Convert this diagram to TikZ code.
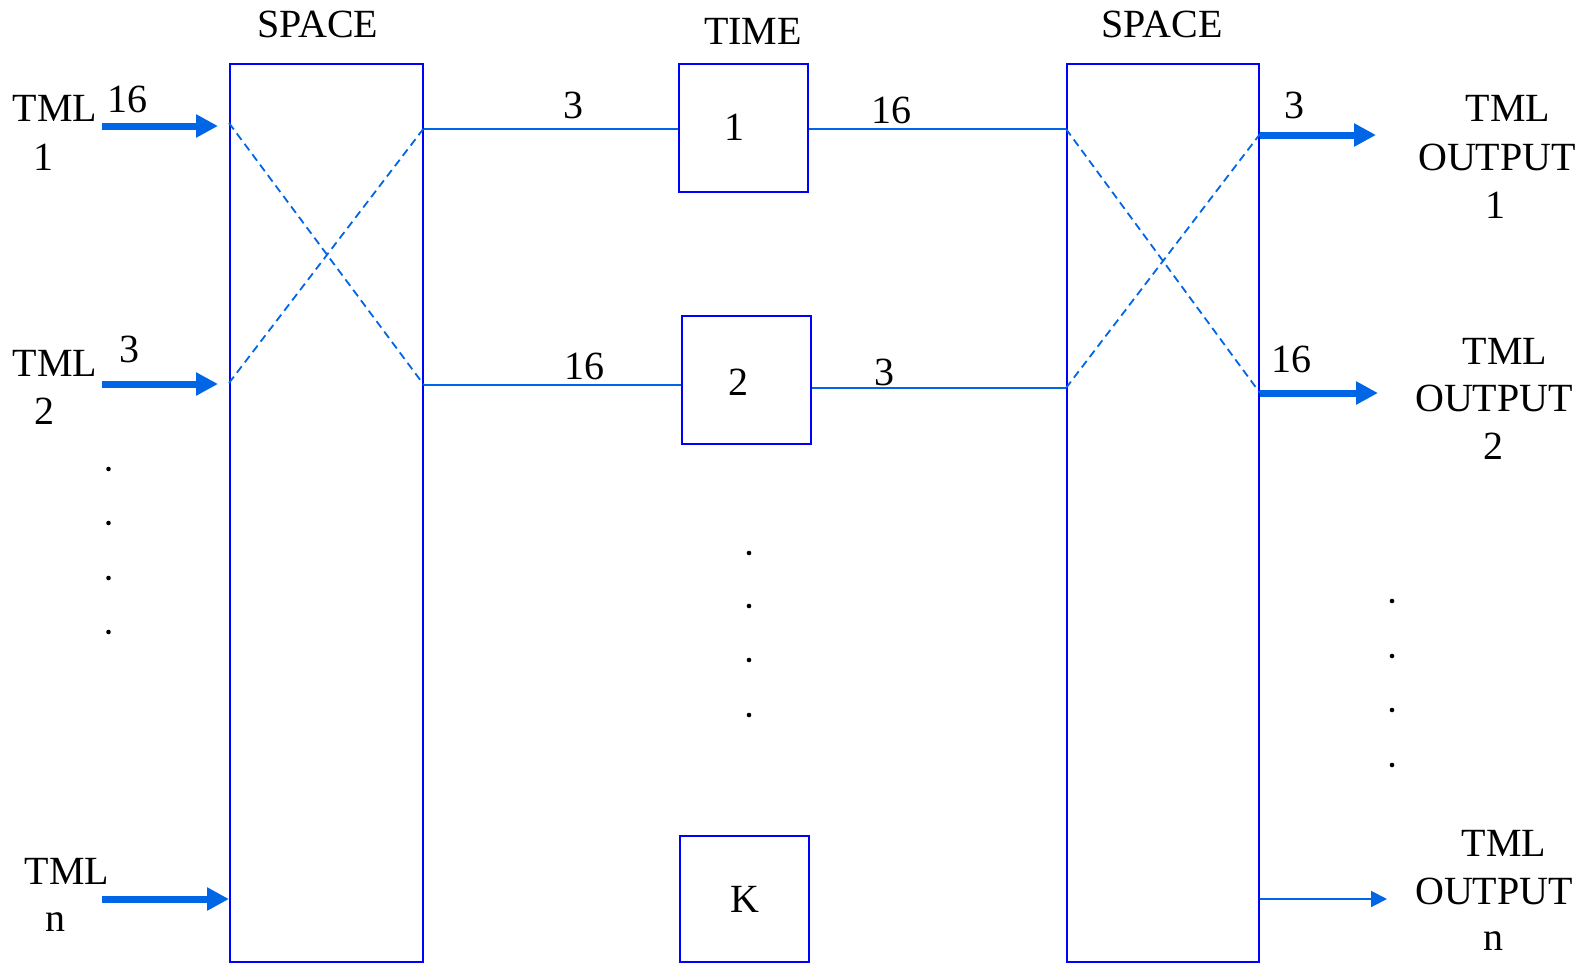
\documentclass[tikz,border=0pt]{standalone}
\usepackage{fontspec}
\setmainfont{Liberation Serif}
\usetikzlibrary{arrows.meta}
\definecolor{boxblue}{RGB}{0,0,255}
\definecolor{linkblue}{RGB}{0,102,230}
\begin{document}
\begin{tikzpicture}[x=0.5pt,y=-0.5pt,
  lbl/.style={inner sep=0pt, font=\fontsize{20}{24}\selectfont},
  bigbox/.style={draw=boxblue, line width=1pt, inner sep=0pt, minimum width=96.5pt, minimum height=449pt},
  tbox/.style={draw=boxblue, line width=1pt, inner sep=0pt, minimum width=64.5pt, minimum height=64pt},
  link/.style={draw=linkblue, line width=1pt},
  fatarrow/.style={draw=linkblue, line width=3.5pt, -{Triangle[length=11pt,width=11pt]}},
  thinarrow/.style={draw=linkblue, line width=1pt, -{Triangle[length=8pt,width=8pt]}},
  xline/.style={draw=linkblue, line width=0.9pt, dash pattern=on 4pt off 2.5pt},
  dotmark/.style={circle, fill=black, inner sep=0pt, minimum size=2.3pt}
]
\useasboundingbox (0,0) rectangle (1590,964);

% big space boxes
\node[bigbox] (lsp) at (326.5,513) {};
\node[bigbox, minimum width=96pt] (rsp) at (1163,513) {};
\node[lbl] (lspT) at (318,24) {SPACE};
\node[lbl] (rspT) at (1162,24) {SPACE};
\node[lbl] (timeT) at (753,31) {TIME};

% time boxes
\node[tbox] (b1) at (743.5,128) {};
\node[tbox] (b2) at (746.5,380) {};
\node[tbox, minimum height=63pt] (bk) at (744.5,899) {};
\node[lbl] (b1t) at ([xshift=-4.75pt,yshift=0.5pt]b1.center) {1};
\node[lbl] (b2t) at ([xshift=-4.25pt,yshift=-1pt]b2.center) {2};
\node[lbl] (bkt) at (bk.center) {K};

% links between boxes
\coordinate (y1) at (0,129);
\coordinate (y2) at (0,385);
\coordinate (y3) at (0,388);
\draw[link] (lsp.east |- y1) -- (b1.west |- y1);
\draw[link] (b1.east |- y1) -- (rsp.west |- y1);
\draw[link] (lsp.east |- y2) -- (b2.west |- y2);
\draw[link] (b2.east |- y3) -- (rsp.west |- y3);
\node[lbl] (l1a) at (573,105) {3};
\node[lbl] (l1b) at (891,110) {16};
\node[lbl] (l2a) at (584,366) {16};
\node[lbl] (l2b) at (884,372) {3};

% dashed crossings
\draw[xline] (lsp.west |- 0,123) -- (lsp.east |- 0,385);
\draw[xline] (lsp.west |- 0,383) -- (lsp.east |- 0,128);
\draw[xline] (rsp.west |- 0,129) -- (rsp.east |- 0,393);
\draw[xline] (rsp.west |- 0,388) -- (rsp.east |- 0,134);

% inputs
\coordinate (i1) at (102,126);
\coordinate (i2) at (102,384);
\coordinate (in) at (102,899);
\draw[fatarrow] (i1) -- ([xshift=-5.5pt]lsp.west |- i1);
\draw[fatarrow] (i2) -- ([xshift=-5.5pt]lsp.west |- i2);
\draw[fatarrow] (in) -- (lsp.west |- in);
\node[lbl] (t1) at (55,108) {TML};
\node[lbl] (t1n) at (43,157) {1};
\node[lbl] (t1c) at (127,99) {16};
\node[lbl] (t2) at (55,363) {TML};
\node[lbl] (t2n) at (44,411) {2};
\node[lbl] (t2c) at (129,349) {3};
\node[lbl] (tn) at (67,871) {TML};
\node[lbl] (tnn) at (56,922) {n};

% outputs
\coordinate (o1) at (1376,135);
\coordinate (o2) at (1378,393);
\coordinate (on) at (1387,899);
\draw[fatarrow] (rsp.east |- o1) -- (o1);
\draw[fatarrow] (rsp.east |- o2) -- (o2);
\draw[thinarrow] (rsp.east |- on) -- (on);
\node[lbl] (oc1) at (1294,105) {3};
\node[lbl] (oc2) at (1291,359) {16};
\node[lbl] (o1a) at (1508,108) {TML};
\node[lbl] (o1b) at (1497,157) {OUTPUT};
\node[lbl] (o1c) at (1495,205) {1};
\node[lbl] (o2a) at (1505,351) {TML};
\node[lbl] (o2b) at (1494,398) {OUTPUT};
\node[lbl] (o2c) at (1493,446) {2};
\node[lbl] (ona) at (1504,843) {TML};
\node[lbl] (onb) at (1494,891) {OUTPUT};
\node[lbl] (onc) at (1493,941) {n};

% ellipsis dots
\foreach \yy [count=\i] in {469,523,578,632} \node[dotmark] (dl\i) at (108.5,\yy) {};
\foreach \yy [count=\i] in {553,606,660,715} \node[dotmark] (dm\i) at (749,\yy) {};
\foreach \yy [count=\i] in {601,656,710,765} \node[dotmark] (dr\i) at (1392,\yy) {};
\end{tikzpicture}
\end{document}
